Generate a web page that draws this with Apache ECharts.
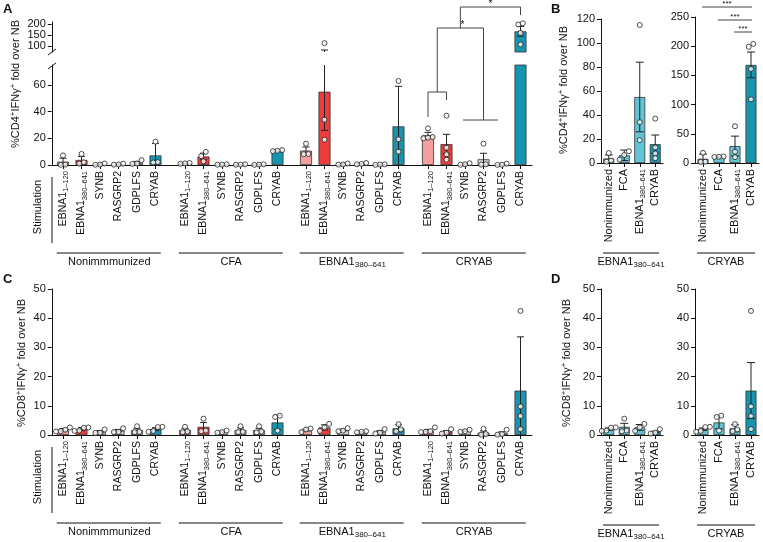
<!DOCTYPE html>
<html><head><meta charset="utf-8">
<script src="https://cdn.jsdelivr.net/npm/echarts@6/dist/echarts.min.js"></script>
<style>html,body{margin:0;padding:0;background:#fff}#c{width:763px;height:542px}</style>
</head><body><div id="c"></div>
<script>
// ---------- DATA ----------
const stimLabels = ['EBNA1|1–120', 'EBNA1|380–641', 'SYNB', 'RASGRP2', 'GDPLFS', 'CRYAB'];
const immGroupsAC = ['Nonimmmunized', 'CFA', 'EBNA1|380–641', 'CRYAB'];
const immLabelsBD = ['Nonimmunized', 'FCA', 'EBNA1|380–641', 'CRYAB'];
const stimGroupsBD = ['EBNA1|380–641', 'CRYAB'];

// Panel A: %CD4+IFNγ+ fold over NB (rows = immunization, cols = stimulation)
const cd4Mean = [
  [2.5, 3.8, 0.5, 0.5, 1.8, 7.2],
  [1.2, 6.4, 0.3, 0.3, 0.3, 10.7],
  [10.8, 55, 0.6, 0.9, 0.3, 29],
  [22.3, 15.7, 0.6, 4.3, 0.4, 168]
];
const cd4Err = [
  [2.6, 2.6, 0.3, 0.3, 0.9, 9],
  [0.2, 2.5, 0.1, 0.1, 0.1, 0.5],
  [2.7, 29, 0.3, 0.4, 0.1, 30],
  [2.2, 7.3, 0.4, 4.5, 0.3, 22]
];
const cd4Points = [
  [[7.2, 0.3, 0.1], [8.3, 2, 1.1], [1.1, 0.3, 0.2], [1.0, 0.4, 0.2], [3.6, 1.1, 0.8], [17.5, 2.2, 1.9]],
  [[1.5, 1.2, 0.9], [9.8, 6.6, 2.8], [0.5, 0.3, 0.2], [0.5, 0.3, 0.2], [0.5, 0.3, 0.1], [11.2, 10.7, 10.3]],
  [[16, 8.2, 8.1], [115, 34, 19], [1.1, 0.4, 0.3], [1.5, 0.8, 0.5], [0.5, 0.3, 0.1], [63, 19.3, 10]],
  [[27.5, 21, 20, 20.5], [37, 13, 8, 4], [1.3, 0.5, 0.2], [16, 0.5, 0.3], [1, 0.2, 0.1], [199, 204, 161, 109]]
];
// Panel C: %CD8+IFNγ+ fold over NB
const cd8Mean = [
  [1.7, 2.0, 1.1, 1.5, 1.7, 2.0],
  [1.7, 2.8, 1.1, 1.7, 1.7, 4.3],
  [1.7, 2.6, 1.7, 1.1, 1.1, 2.3],
  [1.5, 1.1, 1.4, 0.8, 0.6, 15.2]
];
const cd8Err = [
  [0.5, 0.5, 0.4, 0.4, 0.6, 0.5],
  [0.6, 1.5, 0.2, 0.7, 0.6, 2.4],
  [0.3, 0.9, 0.3, 0.1, 0.4, 1.2],
  [0.4, 0.4, 0.2, 0.6, 0.5, 18.4]
];
const cd8Points = [
  [[2.6, 1.8, 1.2, 1.3], [2.6, 2.5, 1.5, 1.4], [1.9, 0.8, 0.7], [2.3, 1.1, 1.0], [3.0, 1.1, 1.0], [2.8, 2.7, 1.4, 1.1]],
  [[2.8, 1.2, 1.0], [5.6, 1.5, 1.3], [1.5, 1.0, 0.8], [3.0, 1.1, 1.0], [3.0, 1.2, 0.9], [6.6, 6.2, 1.5]],
  [[2.2, 1.9, 1.0], [3.8, 2.6, 1.4], [2.3, 1.5, 1.3], [1.3, 1.1, 0.9], [2.0, 0.8, 0.5], [3.7, 1.9, 1.3]],
  [[2.6, 1.1, 1.0, 1.3], [2.0, 0.8, 0.5], [1.8, 1.3, 1.1], [2.1, 0.3, 0.1], [1.8, 0.3, 0.1], [42.5, 9.8, 6.5, 2]]
];
// Panels B / D error bars (as drawn there)
const cd4ErrEbnaStim = [2.9, 4.4, 29, 7.6];
const cd4ErrCryabStim = [8, 0.5, 17, 22];
const cd8ErrEbnaStim = [0.4, 1.2, 1.0, 0.2];
const cd8ErrCryabStim = [0.4, 2.2, 1.2, 9.6];

const axisALowerTicks = [0, 20, 40, 60];
const axisAUpperTicks = [100, 150, 200];

// ---------- STYLE ----------
const FONT = '"Liberation Sans", Arial, Helvetica, sans-serif';
const INK = '#111';
const stimColors = ['#F4A09F', '#EE3B3B', '#D5D5D5', '#D5D5D5', '#D5D5D5', '#1895AE'];
const immColors = ['#62C5D5', '#62C5D5', '#62C5D5', '#1895AE'];
const RICH = {
  sub: {fontSize: 7.5, fontFamily: FONT, color: INK, padding: [6, 0, 0, 0]},
  sup: {fontSize: 7.5, fontFamily: FONT, color: INK, padding: [0, 0, 6, 0]}
};
function richLabel(s) {
  const p = s.split('|');
  return p.length > 1 ? p[0] + '{sub|' + p[1] + '}' : s;
}

const option = {animation: false, backgroundColor: '#fff', grid: [], xAxis: [], yAxis: [], series: []};

function spread(vals, ppu, step) {
  const idx = vals.map((v, i) => i).sort((a, b) => vals[a] - vals[b]);
  const clusters = []; let cur = [];
  idx.forEach(i => {
    if (cur.length && (vals[i] - vals[cur[cur.length - 1]]) * ppu >= step) { clusters.push(cur); cur = []; }
    cur.push(i);
  });
  if (cur.length) clusters.push(cur);
  const dx = new Array(vals.length).fill(0);
  clusters.forEach(c => c.forEach((i, k) => { dx[i] = (k - (c.length - 1) / 2) * step; }));
  return dx;
}

function makeErr(cap) {
  return function (params, api) {
    const i = api.value(0), lo = api.value(1), hi = api.value(2);
    const cs = params.coordSys;
    const pLo = api.coord([i, lo]), pHi = api.coord([i, hi]);
    const top = cs.y, bot = cs.y + cs.height, x = pLo[0];
    const y1 = Math.min(Math.max(pHi[1], top), bot);
    const y2 = Math.min(Math.max(pLo[1], top), bot);
    const st = {stroke: '#222', lineWidth: 1};
    const ch = [];
    if (y2 > y1) ch.push({type: 'line', shape: {x1: x, y1: y1, x2: x, y2: y2}, style: st});
    [pHi[1], pLo[1]].forEach(y => {
      if (y >= top - 0.5 && y <= bot - 0.5) ch.push({type: 'line', shape: {x1: x - cap, y1: y, x2: x + cap, y2: y}, style: st});
    });
    return {type: 'group', children: ch};
  };
}

function addChart(c) {
  const gi = option.grid.length;
  option.grid.push({left: c.left, top: c.top, width: c.width, height: c.height, outerBoundsMode: 'none'});
  option.xAxis.push({
    type: 'category', gridIndex: gi, data: c.cats, show: c.showX,
    axisLine: {show: c.xLine, onZero: false, lineStyle: {color: INK, width: 1}},
    axisTick: {show: true, alignWithLabel: true, length: 4, lineStyle: {color: INK, width: 1}},
    axisLabel: {show: true, interval: 0, rotate: 90, margin: 6, fontSize: c.xFont, fontFamily: FONT,
      color: INK, formatter: richLabel, rich: RICH}
  });
  option.yAxis.push({
    type: 'value', gridIndex: gi, min: c.min, max: c.max, interval: c.interval, show: c.showY, offset: c.yOffset || 0,
    axisLine: {show: true, lineStyle: {color: INK, width: 1}},
    axisTick: {show: true, length: 4, lineStyle: {color: INK}, customValues: c.ticks},
    axisLabel: {fontSize: 11, fontFamily: FONT, color: INK, margin: 6, customValues: c.ticks},
    splitLine: {show: false}
  });
  option.series.push({
    type: 'bar', xAxisIndex: gi, yAxisIndex: gi, barWidth: c.barWidth, clip: true, z: 2, silent: true,
    itemStyle: {borderColor: '#333', borderWidth: 0.8},
    data: c.means.map((m, i) => ({value: m, itemStyle: {color: c.colors[i]}}))
  });
  option.series.push({
    type: 'custom', xAxisIndex: gi, yAxisIndex: gi, z: 3, silent: true, renderItem: makeErr(c.cap),
    encode: {x: 0, y: [1, 2]},
    data: c.means.map((m, i) => [i, m - c.errs[i], m + c.errs[i]])
  });
  const ppu = c.height / (c.max - c.min);
  const pts = [];
  c.points.forEach((arr, i) => {
    const dx = spread(arr, ppu, 4.6);
    arr.forEach((v, k) => pts.push({value: [i, v], symbolOffset: [dx[k], 0]}));
  });
  option.series.push({
    type: 'scatter', xAxisIndex: gi, yAxisIndex: gi, z: 4, clip: true, silent: true,
    symbol: 'circle', symbolSize: 5, itemStyle: {color: '#fff', borderColor: '#222', borderWidth: 1}, data: pts
  });
  return gi;
}

function addBaseline(left, width, bottom) {
  const gi = option.grid.length;
  option.grid.push({left: left, top: bottom - 10, width: width, height: 10, outerBoundsMode: 'none'});
  option.xAxis.push({type: 'value', gridIndex: gi, min: 0, max: 1,
    axisLine: {show: true, onZero: false, lineStyle: {color: INK, width: 1}},
    axisTick: {show: false}, axisLabel: {show: false}, splitLine: {show: false}});
  option.yAxis.push({type: 'value', gridIndex: gi, show: false, min: 0, max: 1, splitLine: {show: false}});
  return gi;
}

// ---------- LAYOUT ----------
const AC_LEFTS = [53.75, 175.75, 296.75, 418.75];
const AC_W = 111;
const gA = [], gAU = [], gC = [];
immGroupsAC.forEach((g, k) => {
  gA.push(addChart({left: AC_LEFTS[k], top: 65, width: AC_W, height: 100, min: 0, max: 75, ticks: axisALowerTicks,
    showY: k === 0, yOffset: 2, showX: true, xLine: false, cats: stimLabels, means: cd4Mean[k], errs: cd4Err[k],
    points: cd4Points[k], colors: stimColors, barWidth: 12, cap: 3.5, xFont: 10.5}));
  gAU.push(addChart({left: AC_LEFTS[k], top: 22, width: AC_W, height: 30, min: 75, max: 210, ticks: axisAUpperTicks,
    showY: k === 0, yOffset: 2, showX: false, xLine: false, cats: stimLabels, means: cd4Mean[k], errs: cd4Err[k],
    points: cd4Points[k], colors: stimColors, barWidth: 12, cap: 3.5, xFont: 10.5}));
  gC.push(addChart({left: AC_LEFTS[k], top: 289, width: AC_W, height: 146, min: 0, max: 50, interval: 10,
    showY: k === 0, yOffset: 2, showX: true, xLine: false, cats: stimLabels, means: cd8Mean[k], errs: cd8Err[k],
    points: cd8Points[k], colors: stimColors, barWidth: 12, cap: 3.5, xFont: 10.5}));
});
addBaseline(52, 480, 165);
addBaseline(52, 480, 435);

const colOf = (mat, j) => mat.map(r => r[j]);
const gBL = addChart({left: 601, top: 19, width: 62, height: 144, min: 0, max: 120, interval: 20, showY: true, showX: true,
  xLine: true, cats: immLabelsBD, means: colOf(cd4Mean, 1), errs: cd4ErrEbnaStim, points: colOf(cd4Points, 1),
  colors: immColors, barWidth: 11, cap: 4, xFont: 11});
const gBR = addChart({left: 695, top: 17, width: 64, height: 146, min: 0, max: 250, interval: 50, showY: true, showX: true,
  xLine: true, cats: immLabelsBD, means: colOf(cd4Mean, 5), errs: cd4ErrCryabStim, points: colOf(cd4Points, 5),
  colors: immColors, barWidth: 11, cap: 4, xFont: 11});
const gDL = addChart({left: 601, top: 289, width: 62, height: 146, min: 0, max: 50, interval: 10, showY: true, showX: true,
  xLine: true, cats: immLabelsBD, means: colOf(cd8Mean, 1), errs: cd8ErrEbnaStim, points: colOf(cd8Points, 1),
  colors: immColors, barWidth: 11, cap: 4, xFont: 11});
const gDR = addChart({left: 695, top: 289, width: 64, height: 146, min: 0, max: 50, interval: 10, showY: true, showX: true,
  xLine: true, cats: immLabelsBD, means: colOf(cd8Mean, 5), errs: cd8ErrCryabStim, points: colOf(cd8Points, 5),
  colors: immColors, barWidth: 11, cap: 4, xFont: 11});

const chart = echarts.init(document.getElementById('c'), null, {renderer: 'canvas'});
chart.setOption(option);

// ---------- ANNOTATIONS ----------
const TRICH = {
  sub: {fontSize: 8, fontFamily: FONT, fill: INK, padding: [6, 0, 0, 0]},
  sup: {fontSize: 8, fontFamily: FONT, fill: INK, padding: [0, 0, 6, 0]}
};
function T(text, x, y, o) {
  o = o || {};
  return {type: 'text', x: x, y: y, rotation: o.rot || 0, z: 100, silent: true,
    style: {text: text, fontSize: o.size || 11, fontFamily: FONT, fontWeight: o.bold ? 'bold' : 'normal', fill: INK,
      align: o.align || 'center', verticalAlign: o.va || 'middle',
      textAlign: o.align || 'center', textVerticalAlign: o.va || 'middle', rich: TRICH}};
}
function L(x1, y1, x2, y2, o) {
  o = o || {};
  return {type: 'line', z: 100, silent: true, shape: {x1: x1, y1: y1, x2: x2, y2: y2},
    style: {stroke: o.color || INK, lineWidth: o.w || 1}};
}
const px = (gi, i) => chart.convertToPixel({gridIndex: gi}, [i, 0])[0];
const R90 = Math.PI / 2;
const G = [];
// panel letters
G.push(T('A', 3, 3, {bold: true, size: 13, align: 'left', va: 'top'}));
G.push(T('B', 551, 3, {bold: true, size: 13, align: 'left', va: 'top'}));
G.push(T('C', 3, 273, {bold: true, size: 13, align: 'left', va: 'top'}));
G.push(T('D', 551, 273, {bold: true, size: 13, align: 'left', va: 'top'}));
// y titles
const cd4Title = '%CD4{sup|+}IFNγ{sup|+} fold over NB';
const cd8Title = '%CD8{sup|+}IFNγ{sup|+} fold over NB';
G.push(T(cd4Title, 16, 84, {rot: R90}));
G.push(T(cd4Title, 564, 90, {rot: R90}));
G.push(T(cd8Title, 22, 363, {rot: R90}));
G.push(T(cd8Title, 567, 363, {rot: R90}));
// axis break marks
G.push(L(48, 55, 56, 49));
G.push(L(48, 69, 56, 63));
// Stimulation labels
[[207, 177, 243], [477, 447, 513]].forEach(s => {
  G.push(T('Stimulation', 38, s[0], {rot: R90}));
  G.push(L(52, s[1], 52, s[2]));
});
// group labels A / C
[[253, 262], [523, 532]].forEach(r => {
  immGroupsAC.forEach((g, k) => {
    const l = AC_LEFTS[k];
    G.push(L(l + 3, r[0], l + AC_W - 4, r[0]));
    G.push(T(richLabel(g), l + AC_W / 2, r[1]));
  });
});
// group labels B / D
[[601, 62], [695, 64]].forEach((p, k) => {
  [[253, 262], [525, 534]].forEach(r => {
    G.push(L(p[0] + 2, r[0], p[0] + p[1] - 4, r[0]));
    G.push(T(richLabel(stimGroupsBD[k]), p[0] + p[1] / 2 - 1, r[1]));
  });
});
// significance brackets, panel A (CRYAB immunized group)
const g3 = gA[3];
const x0 = px(g3, 0), x1 = px(g3, 1), x2 = px(g3, 2), x4 = px(g3, 4), x5 = px(g3, 5);
const m1 = (x0 + x1) / 2, m2 = (x2 + x4) / 2, m3 = (m1 + m2) / 2;
const BC = '#444';
G.push(L(x0, 117, x0, 92, {color: BC}), L(x1, 100, x1, 92, {color: BC}), L(x0, 92, x1, 92, {color: BC}));
G.push(L(m1, 92, m1, 28, {color: BC}));
G.push(L(x2 - 2, 120, x4 - 4, 120, {color: BC}), L(m2, 120, m2, 28, {color: BC}));
G.push(L(m1, 28, m2, 28, {color: BC}));
G.push(T('*', (m1 + m2) / 2 + 2, 25, {size: 10}));
G.push(L(m3, 28, m3, 7, {color: BC}), L(m3, 7, x5, 7, {color: BC}), L(x5, 7, x5, 15, {color: BC}));
G.push(T('*', (m3 + x5) / 2, 4, {size: 10}));
// significance, panel B right
const bx = [0, 1, 2, 3].map(i => px(gBR, i));
[[0, 7], [1, 20], [2, 32]].forEach(s => {
  G.push(L(bx[s[0]] - 1, s[1], bx[3] + 1, s[1], {color: BC}));
  G.push(T('***', (bx[s[0]] + bx[3]) / 2, s[1] - 3, {size: 8}));
});
chart.setOption({graphic: G});
</script></body></html>
